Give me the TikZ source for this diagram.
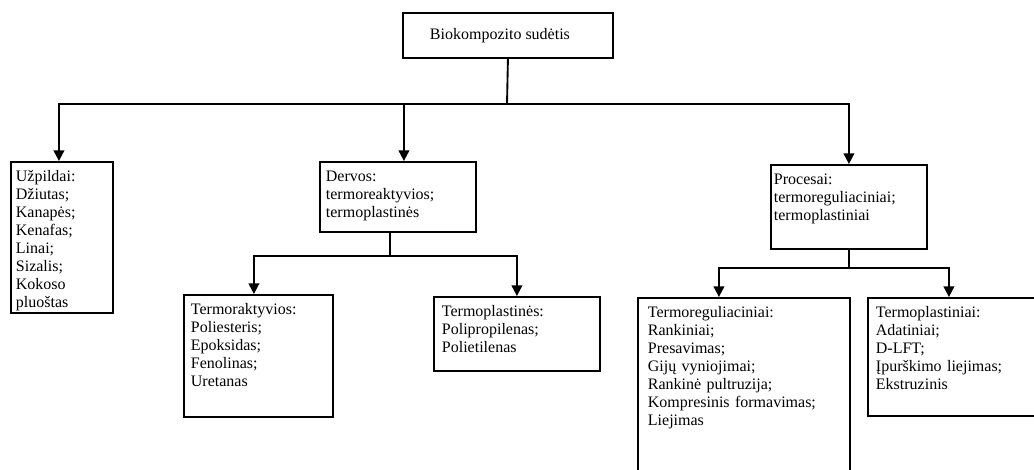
\documentclass[tikz,border=0pt]{standalone}
\usepackage{fontspec}
\setmainfont{Liberation Serif}
\usetikzlibrary{arrows.meta}

\tikzset{
  blk/.style={draw,line width=1.4pt,anchor=north west,align=left,inner ysep=5.5pt,
    text height=9pt,font=\fontsize{12}{13.5}\selectfont},
  ln/.style={line width=1.4pt},
  arr/.style={line width=1.4pt,-{Triangle[width=8pt,length=8pt]}}
}

\begin{document}
\begin{tikzpicture}[x=0.75pt,y=-0.75pt]
\path[use as bounding box,clip] (0,0) rectangle (1034,470);
% boxes
\node[blk,align=center,minimum width=157.5pt,minimum height=33.75pt] (root) at (402,12) {Biokompozito sudėtis\hspace*{12pt}};
\node[blk,inner xsep=3.75pt,text width=69pt,text depth=93.25pt] (uzp) at (10,161)
  {Užpildai:\\Džiutas;\\Kanapės;\\Kenafas;\\Linai;\\Sizalis;\\Kokoso\\pluoštas};
\node[blk,inner xsep=4.5pt,text width=108pt,text depth=32.5pt] (dervos) at (319,161)
  {Dervos:\\termoreaktyvios;\\termoplastinės};
\node[blk,inner xsep=2.25pt,text width=112.5pt,text depth=43pt] (procesai) at (770,164)
  {Procesai:\\termoreguliaciniai;\\termoplastiniai};
\node[blk,inner xsep=5.25pt,text width=101.25pt,text depth=71.5pt] (treakt) at (183,294)
  {Termoraktyvios:\\Poliesteris;\\Epoksidas;\\Fenolinas;\\Uretanas};
\node[blk,inner xsep=6pt,text width=112.5pt,text depth=35.5pt] (tplastines) at (433,296)
  {Termoplastinės:\\Polipropilenas;\\Polietilenas};
\node[blk,inner xsep=7.5pt,text width=144pt,text depth=130pt] (treg) at (637,297)
  {Termoreguliaciniai:\\Rankiniai;\\Presavimas;\\Gijų vyniojimai;\\Rankinė pultruzija;\\Kompresinis formavimas;\\Liejimas};
\node[blk,inner xsep=6pt,text width=138pt,text depth=68.5pt] (tplastiniai) at (867,297)
  {Termoplastiniai:\\Adatiniai;\\D-LFT;\\Įpurškimo liejimas;\\Ekstruzinis};
% junctions
\coordinate (j1) at (507,104);
\coordinate (j2) at (390,256);
\coordinate (j3) at (849,268);
\draw[ln] (root.south) -- (j1);
\draw[arr] (j1) -| ([xshift=-2.25pt]uzp.north);
\draw[arr] (j1) -| ([xshift=4.5pt]dervos.north);
\draw[arr] (j1) -| (procesai.north);
\draw[ln] (j2 |- dervos.south) -- (j2);
\draw[arr] (j2) -| ([xshift=-3.4pt]treakt.north);
\draw[arr] (j2) -| (tplastines.north);
\draw[ln] (procesai.south) -- (j3);
\draw[arr] (j3) -| ([xshift=-18.75pt]treg.north);
\draw[arr] (j3) -| ([xshift=-14.25pt]tplastiniai.north);
\end{tikzpicture}
\end{document}
